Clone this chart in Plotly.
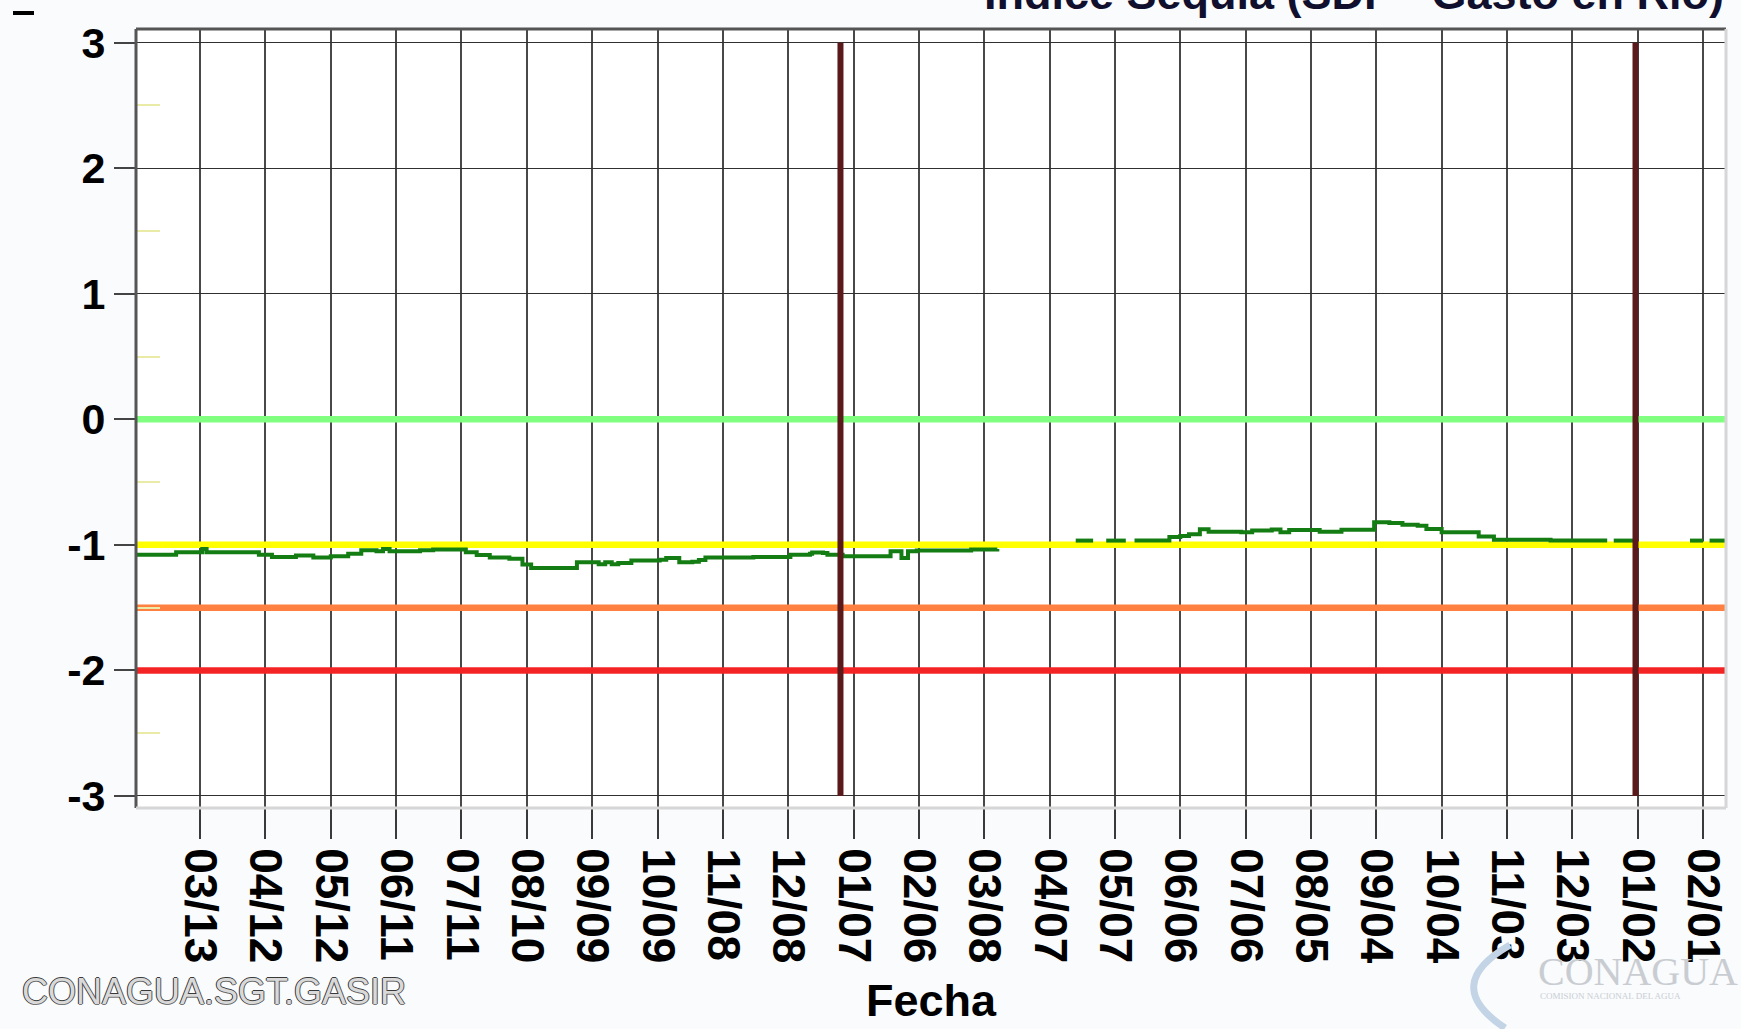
import plotly.graph_objects as go

# ---------------- data ----------------
tick_dates = ["2021-03-13", "2021-04-12", "2021-05-12", "2021-06-11", "2021-07-11",
              "2021-08-10", "2021-09-09", "2021-10-09", "2021-11-08", "2021-12-08",
              "2022-01-07", "2022-02-06", "2022-03-08", "2022-04-07", "2022-05-07",
              "2022-06-06", "2022-07-06", "2022-08-05", "2022-09-04", "2022-10-04",
              "2022-11-03", "2022-12-03", "2023-01-02", "2023-02-01"]
tick_labels = ["03/13", "04/12", "05/12", "06/11", "07/11", "08/10", "09/09", "10/09",
               "11/08", "12/08", "01/07", "02/06", "03/08", "04/07", "05/07", "06/06",
               "07/06", "08/05", "09/04", "10/04", "11/03", "12/03", "01/02", "02/01"]
y_ticks = [3, 2, 1, 0, -1, -2, -3]
y_tick_labels = ["3", "2", "1", "0", "-1", "-2", "-3"]
y_minor_ticks = [2.5, 1.5, 0.5, -0.5, -1.5, -2.5]

fechas = ["2021-02-11", "2021-03-02", "2021-03-14", "2021-03-16", "2021-04-09",
          "2021-04-15", "2021-04-26", "2021-05-04", "2021-05-12", "2021-05-20",
          "2021-05-26", "2021-06-02", "2021-06-05", "2021-06-08", "2021-06-22",
          "2021-06-28", "2021-07-13", "2021-07-18", "2021-07-24", "2021-08-02",
          "2021-08-08", "2021-08-12", "2021-09-02", "2021-09-12", "2021-09-15",
          "2021-09-18", "2021-09-21", "2021-09-27", "2021-10-10", "2021-10-13",
          "2021-10-19", "2021-10-25", "2021-10-28", "2021-10-31", "2021-11-22",
          "2021-12-09", "2021-12-18", "2021-12-19", "2021-12-24", "2021-12-26",
          "2022-01-02", "2022-01-24", "2022-01-29", "2022-02-01", "2022-02-05",
          "2022-03-02", "2022-03-14", "2022-03-15",
          "2022-04-19", "2022-04-27", "2022-04-28", "2022-05-03", "2022-05-12",
          "2022-05-13", "2022-05-16", "2022-06-01", "2022-06-06", "2022-06-10",
          "2022-06-15", "2022-06-19", "2022-07-04", "2022-07-09", "2022-07-18",
          "2022-07-22", "2022-07-26", "2022-08-09", "2022-08-19", "2022-09-03",
          "2022-09-10", "2022-09-16", "2022-09-23", "2022-09-27", "2022-10-04",
          "2022-10-21", "2022-10-28", "2022-11-23", "2022-12-19", "2022-12-20",
          "2022-12-22", "2022-12-31", "2023-01-01", "2023-01-26", "2023-02-01",
          "2023-02-02", "2023-02-04", "2023-02-14"]
indice = [-1.078, -1.059, -1.032, -1.059, -1.078,
          -1.096, -1.085, -1.100, -1.090, -1.070,
          -1.043, -1.050, -1.032, -1.050, -1.043,
          -1.037, -1.059, -1.080, -1.100, -1.110,
          -1.157, -1.184, -1.139, -1.155, -1.139,
          -1.155, -1.145, -1.125, -1.118, -1.105,
          -1.139, -1.135, -1.120, -1.100, -1.097,
          -1.078, -1.070, -1.060, -1.065, -1.078,
          -1.090, -1.051, -1.105, -1.051, -1.045,
          -1.037, -1.032, None,
          -0.966, -0.966, None, -0.966, -0.966,
          None, -0.966, -0.937, -0.930, -0.916,
          -0.876, -0.895, -0.900, -0.886, -0.877,
          -0.900, -0.882, -0.895, -0.880, -0.820,
          -0.826, -0.839, -0.847, -0.874, -0.900,
          -0.933, -0.959, -0.966, -0.966, None,
          -0.966, -0.966, None, -0.966, -0.966,
          None, -0.966, -0.966]

umbral_valores = [0, -1, -1.5, -2]
umbral_colores = ["#80ff80", "#ffff00", "#ff8040", "#f42424"]
marcas_anio = ["2022-01-01", "2023-01-01"]
x_range = ["2021-02-11 14:00", "2023-02-11 13:00"]
y_range = [-3.096, 3.109]

FONT = "Liberation Sans, Arial, sans-serif"

fig = go.Figure()

for v, c in zip(umbral_valores, umbral_colores):
    fig.add_trace(go.Scatter(x=x_range, y=[v, v], mode="lines",
                             line=dict(color=c, width=6.5), hoverinfo="skip",
                             showlegend=False))

fig.add_trace(go.Scatter(x=fechas, y=indice, mode="lines",
                         line=dict(color="#137d13", width=4, shape="hv"),
                         connectgaps=False, showlegend=False))

for d in marcas_anio:
    fig.add_trace(go.Scatter(x=[d, d], y=[y_ticks[0], y_ticks[-1]], mode="lines",
                             line=dict(color="#5a1a1c", width=6), hoverinfo="skip",
                             showlegend=False))

L, R, T, B = 136, 15, 29, 221
W, H = 1741, 1029
PW, PH = W - L - R, H - T - B


def px(xp):
    return (xp - L) / PW


def py(yp):
    return (H - B - yp) / PH


fig.update_layout(
    width=W, height=H,
    margin=dict(l=L, r=R, t=T, b=B, pad=0),
    paper_bgcolor="#f9fbfd",
    plot_bgcolor="#ffffff",
    showlegend=False,
    xaxis=dict(type="date", range=x_range, tickmode="array", tickvals=tick_dates,
               ticktext=tick_labels, tickangle=90, ticks="outside", ticklen=30,
               tickwidth=2, tickcolor="#3a3a3a", showgrid=True, gridcolor="#484848",
               gridwidth=2, zeroline=False, showline=False,
               tickfont=dict(family=FONT, size=46, color="#000000", weight="bold")),
    yaxis=dict(range=y_range, tickmode="array", tickvals=y_ticks, ticktext=y_tick_labels,
               ticks="outside", ticklen=21, tickwidth=1.5, tickcolor="#444444",
               showgrid=True, gridcolor="#303030", gridwidth=1.2, zeroline=False,
               showline=False,
               tickfont=dict(family=FONT, size=43, color="#000000", weight="bold"),
               minor=dict(tickmode="array", tickvals=y_minor_ticks, ticks="inside",
                          ticklen=24, tickwidth=2, tickcolor="#ebeba8", showgrid=False)),
)

# frame (dark top/left, light bottom/right)
frame = [
    dict(x0=0, x1=0, y0=0, y1=1, color="#555555"),
    dict(x0=0, x1=1, y0=1, y1=1, color="#555555"),
    dict(x0=1, x1=1, y0=0, y1=1, color="#d6d6d6"),
    dict(x0=0, x1=1, y0=0, y1=0, color="#d6d6d6"),
]
for f in frame:
    fig.add_shape(type="line", xref="paper", yref="paper", x0=f["x0"], x1=f["x1"],
                  y0=f["y0"], y1=f["y1"], line=dict(color=f["color"], width=3),
                  layer="above")

# small dash top-left
fig.add_shape(type="line", xref="paper", yref="paper", x0=px(13), x1=px(34),
              y0=py(13), y1=py(13), line=dict(color="#000000", width=4))

# title (cut at the top)
fig.add_annotation(text="Indice Sequia (SDF - Gasto en Rio)", xref="paper", yref="paper",
                   x=1.0, y=py(21), xanchor="right", yanchor="bottom", showarrow=False,
                   font=dict(family=FONT, size=45, color="#10102e", weight="bold"))

fig.add_annotation(text="Fecha", xref="paper", yref="paper", x=0.5, y=py(1001),
                   xanchor="center", yanchor="middle", showarrow=False,
                   font=dict(family=FONT, size=45, color="#000000", weight="bold"))

fig.add_annotation(text="CONAGUA.SGT.GASIR", xref="paper", yref="paper", x=px(20),
                   y=py(991), xanchor="left", yanchor="middle", showarrow=False,
                   font=dict(family=FONT, size=36, color="#d9d9d9",
                             shadow="-1px 0px 0px #3a3a3a, 1px 0px 0px #555555, "
                                    "0px -1px 0px #3a3a3a, 0px 1px 0px #777777"))

# watermark logo
fig.add_shape(type="path", xref="paper", yref="paper",
              path="M %f,%f Q %f,%f %f,%f" % (px(1510), py(945), px(1440), py(985),
                                               px(1505), py(1028)),
              line=dict(color="#c3d4e6", width=7))
fig.add_annotation(text="CONAGUA", xref="paper", yref="paper", x=px(1536), y=py(971),
                   xanchor="left", yanchor="middle", showarrow=False,
                   font=dict(family="Liberation Serif, serif", size=40, color="#c9cdd2"))
fig.add_annotation(text="COMISION NACIONAL DEL AGUA", xref="paper", yref="paper",
                   x=px(1538), y=py(996), xanchor="left", yanchor="middle",
                   showarrow=False,
                   font=dict(family="Liberation Serif, serif", size=9, color="#c9cdd2"))

fig.write_html("out.html", config={"displayModeBar": False},
               post_script="document.body.style.margin='0';document.body.style.overflow='hidden';")
